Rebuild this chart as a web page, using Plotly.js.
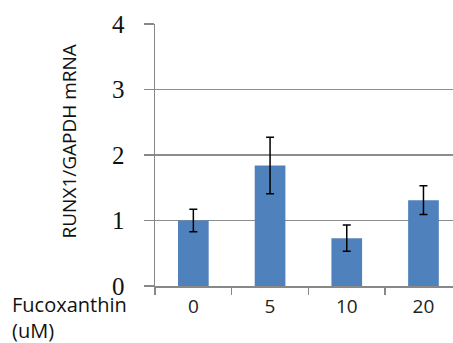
<!DOCTYPE html>
<html><head><meta charset="utf-8">
<script src="https://cdn.plot.ly/plotly-3.0.1.min.js"></script>
<style>html,body{margin:0;padding:0;overflow:hidden;background:#fff}</style>
</head><body><div id="chart" style="width:453px;height:343px"></div>
<script>
const categories = ["0", "5", "10", "20"];
const values = [1.00, 1.84, 0.73, 1.31];
const errors = [0.17, 0.43, 0.20, 0.22];
const yTicks = [0, 1, 2, 3, 4];
const yTitle = "RUNX1/GAPDH mRNA";
const xTitle = "Fucoxanthin<br>(uM)";

const trace = {
  type: "bar", x: categories, y: values,
  marker: {color: "#4F81BD"},
  error_y: {type: "data", array: errors, visible: true, color: "#000", thickness: 1.5, width: 4},
  hoverinfo: "none"
};
const layout = {
  width: 453, height: 343,
  margin: {l: 155, r: 0, t: 24, b: 57},
  paper_bgcolor: "#fff", plot_bgcolor: "#fff",
  font: {family: "Open Sans", size: 17, color: "#222"},
  showlegend: false, bargap: 0.6,
  xaxis: {
    type: "category", range: [-0.5, 3.385],
    showline: true, linecolor: "#888", linewidth: 1.5,
    ticks: "outside", tickson: "boundaries", ticklen: 7, tickcolor: "#888", tickwidth: 1.5,
    showgrid: false, zeroline: false,
    tickfont: {family: "Open Sans", size: 19, color: "#222"}, ticklabelstandoff: 3
  },
  yaxis: {
    range: [0, 4], tickmode: "array", tickvals: yTicks, ticktext: yTicks.map(String),
    showline: true, linecolor: "#888", linewidth: 1.5,
    ticks: "outside", ticklen: 10, tickcolor: "#888", tickwidth: 1.5,
    showgrid: true, gridcolor: "#8c8c8c", gridwidth: 1.5, zeroline: false,
    tickfont: {family: "Liberation Serif", size: 25, color: "#111"}, ticklabelstandoff: 14
  },
  annotations: [
    {text: yTitle, xref: "paper", yref: "paper", x: -0.29, y: 0.55, xanchor: "center", yanchor: "middle",
     textangle: -90, showarrow: false, font: {family: "Open Sans", size: 19, color: "#111"}},
    {text: xTitle, xref: "paper", yref: "paper", x: -0.487, y: -0.0115, xanchor: "left", yanchor: "top",
     align: "left", showarrow: false, font: {family: "Open Sans", size: 20, color: "#111"}}
  ]
};
Plotly.newPlot("chart", [trace], layout, {staticPlot: true, displayModeBar: false});
</script></body></html>
